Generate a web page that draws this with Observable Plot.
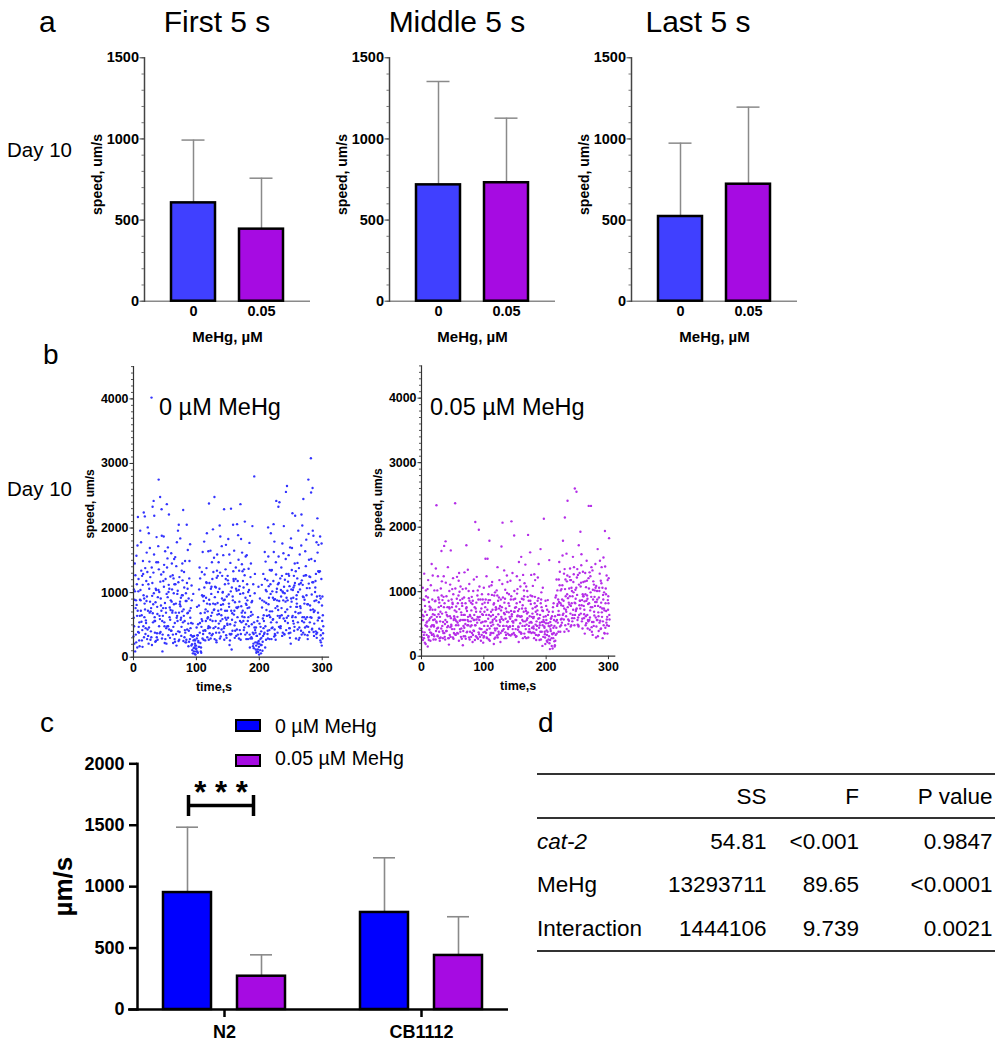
<!DOCTYPE html>
<html><head><meta charset="utf-8">
<script src="https://cdn.jsdelivr.net/npm/d3@7"></script>
<script src="https://cdn.jsdelivr.net/npm/@observablehq/plot@0.6"></script>
<style>
html,body{margin:0;padding:0;background:#fff;}
#root{position:relative;width:1006px;height:1050px;overflow:hidden;font-family:Arial,"Liberation Sans",Helvetica,sans-serif;color:#000;}
.abs{position:absolute;}
</style></head><body><div id="root"></div>
<script>
// ---------- DATA ----------
// panel a
const doses = ["0", "0.05"];
const windows = ["First 5 s", "Middle 5 s", "Last 5 s"];
const meanFirst = [606, 444];  const sdFirst = [387, 314];
const meanMiddle = [717, 730]; const sdMiddle = [637, 398];
const meanLast = [522, 721];   const sdLast = [452, 475];
const aTicks = [0, 500, 1000, 1500];

// panel b : speed samples (um/s), 6 interleaved tracks per condition, one sample every 2 s per track
const sampleStep = 2, trackOffset = 1 / 3;
const blue1 = [320,1450,880,150,1210,640,1780,420,960,2180, 530,1320,210,1690,760,1150,2420,380,1040,670, 2750,590,1280,90,1870,840,450,1530,1120,300, 1610,720,990,240,1410,560,2050,860,330,1190, 640,1490,270,1060,410,1750,180,520,90,260, 130,340,800,1220,470,1630,950,260,1380,710, 2380,580,1090,360,1540,820,230,1260,670,1870, 430,1010,2290,610,300,1190,780,1460,120,880, 1650,540,1030,350,1340,2370,690,1180,460,920, 1580,280,770,1240,510,170,2800,380,90,620, 210,470,1120,330,860,1480,640,2010,420,980, 1350,590,1790,270,1060,730,2400,480,1260,880, 350,1520,2650,640,1100,210,1690,920,470,1330, 780,1960,300,1150,560,2450,890,1410,620,2750, 1070,3080,440,1880,720,1290,380,1740,950,230, 560];
const blue2 = [610,1020,230,1730,470,890,1340,160,2240,740, 1180,430,1920,860,310,2330,990,560,1470,270, 1360,2480,720,350,1090,1640,210,930,2210,580, 410,1270,820,1550,180,1030,690,1840,470,960, 1320,380,870,1660,240,610,1110,60,330,180, 460,70,1050,220,590,940,1790,410,1150,620, 890,1650,340,1980,740,470,1230,1010,380,560, 1720,820,270,1360,940,610,1590,350,1080,2050, 720,1210,430,1890,860,270,1440,990,620,1560, 380,1010,1770,640,290,1130,460,120,330,80, 520,190,770,1290,380,1040,640,1560,280,1920, 710,1180,430,1470,880,2330,610,1040,330,1610, 990,2560,740,1290,450,1840,620,1080,1450,290, 1220,680,1590,410,2040,930,350,1270,820,1910, 540,2550,1160,390,1490,880,2150,610,1330,420, 940];
const blue3 = [1050,90,1570,720,380,1960,550,1120,310,1380, 870,2010,460,1240,4020,680,1590,240,1860,930, 480,1170,2290,640,1430,280,980,1700,430,1250, 860,350,1520,1130,610,1960,270,790,1340,540, 1080,230,2050,690,1220,450,880,320,150,40, 290,510,160,680,1320,360,1080,740,1920,450, 1150,290,1470,830,2480,560,1340,720,1060,320, 910,1580,480,1210,720,1830,190,1020,580,1330, 490,1390,2060,780,1100,360,1620,560,1270,830, 1130,620,350,1450,870,210,990,460,230,1090, 360,60,880,450,1630,270,1190,820,1350,540, 1020,2060,360,1280,790,1560,470,940,1760,600, 1200,420,1030,1580,300,910,2230,520,1150,780, 1460,270,1050,1730,620,1260,460,1820,340,1140, 800,1520,2620,700,1010,360,1620,850,1870,1210, 290];
const blue4 = [480,1270,810,2170,260,1040,650,1490,910,360, 1620,720,1060,270,1390,540,2190,850,310,1470, 1010,390,1880,760,540,1210,2370,480,1060,730, 1450,220,1130,690,1780,400,1240,580,960,2280, 310,870,1150,520,1490,760,200,980,270,130, 780,250,1390,90,960,410,1280,560,830,1640, 370,1060,690,1320,280,1080,1590,450,2040,810, 1260,390,890,1740,520,1140,360,2300,680,1210, 300,1060,760,1510,420,1830,630,1080,2100,510, 880,1370,150,700,2030,360,1290,180,560,250, 910,400,100,650,1210,840,360,1100,710,1340, 460,1630,900,2420,380,1150,640,1390,1020,2030, 560,1290,880,370,1700,1050,640,1260,2190,900, 430,1380,790,2210,1120,540,1640,960,280,1510, 1240,610,1960,330,1080,1780,570,1320,260,1760, 650];
const blue5 = [210,760,1130,390,540,880,260,1290,620,450, 940,330,1480,710,190,820,560,1060,370,1720, 640,910,290,1180,480,760,1390,340,620,880, 1050,470,280,830,640,1160,390,920,710,250, 560,990,430,170,720,340,110,260,50,180, 90,230,380,150,560,270,690,920,310,480, 820,640,1210,450,930,380,660,1470,290,740, 590,880,1130,340,500,970,260,720,410,1180, 850,330,620,1040,560,790,1330,420,690,280, 760,480,950,310,660,140,420,70,210,160, 110,300,240,560,150,730,410,920,620,280, 580,890,340,1010,640,470,1220,760,380,1090, 700,920,530,1260,380,860,1040,410,700,960, 540,1130,690,350,940,620,1270,480,820,390, 620,970,740,520,1180,300,690,440,910,180, 370];
const blue6 = [890,350,640,1020,170,720,1260,480,830,570, 280,1130,690,400,950,1310,620,250,780,1040, 370,800,560,1320,220,690,480,1010,770,410, 690,1220,530,360,980,250,820,610,1450,740, 420,230,680,910,280,530,320,140,210,90, 340,160,530,70,290,870,420,1160,600,270, 460,980,560,730,1090,260,840,520,1310,650, 1000,450,720,580,1260,830,510,360,940,660, 410,770,1180,290,980,540,720,1360,350,810, 560,1040,290,850,380,540,230,330,120,40, 280,190,600,360,480,1020,290,650,1130,450, 920,320,760,540,1130,870,450,650,1000,360, 860,610,1170,450,780,1350,560,1110,620,830, 1010,460,760,1190,380,830,590,1070,470,1250, 730,430,1160,870,400,940,1330,610,340,800, 480];
const purple1 = [430,1060,280,690,520,150,840,370,610,1250, 460,720,2340,310,880,540,1630,390,760,260, 930,620,180,1110,470,810,360,2370,690,520, 240,870,430,1040,640,310,1720,560,900,380, 710,220,1190,480,830,610,1960,300,740,530, 1060,380,640,1510,260,870,470,720,190,990, 550,1380,340,780,610,2070,420,890,280,1150, 680,460,930,1290,360,750,560,1040,220,840, 1540,470,690,300,1080,590,860,380,1260,660, 430,920,250,710,1430,520,880,160,610,340, 780,220,470,110,590,340,820,170,940,1020, 700,1310,480,1100,860,2150,620,1250,390,930, 1180,540,990,2600,720,1350,460,860,1140,580, 930,350,1070,640,1210,410,2330,760,530,1020, 290,880,620,1280,430,740,1530,350,960,610, 820];
const purple2 = [720,250,1280,480,330,910,560,240,1430,650, 310,860,520,1240,380,690,940,280,1710,560, 390,1380,760,450,880,290,620,1050,540,820, 1290,380,640,170,910,500,760,1340,290,620, 480,860,390,2080,570,1020,340,690,420,880, 310,760,1240,470,640,330,1100,560,820,400, 730,290,910,530,1700,400,670,1030,470,350, 960,580,2090,420,690,890,310,630,1460,510, 350,790,1020,540,280,920,470,1610,360,740, 610,1180,410,860,330,640,990,480,2130,290, 560,380,690,250,480,120,360,620,440,810, 1190,460,790,1560,570,1040,690,2410,830,1360, 480,930,1270,640,1060,560,1720,860,1410,430, 780,1160,510,890,2330,600,920,1330,470,780, 1090,560,390,1480,830,1060,480,1940,700,350, 1210];
const purple3 = [290,560,870,190,640,1180,410,750,330,560, 1020,260,610,440,830,290,1160,530,360,1780, 640,470,1010,300,760,1210,420,560,890,350, 730,1080,270,560,440,820,370,610,1120,460, 920,330,640,480,1230,270,560,880,330,640, 470,1510,290,830,1080,520,360,640,940,290, 1020,490,740,220,580,910,1330,370,690,540, 330,1170,620,470,1870,560,820,410,730,1080, 620,280,930,1420,490,680,370,860,520,1090, 280,760,540,1220,440,380,760,1060,530,190, 400,870,310,530,280,690,560,240,1190,520, 840,380,1040,640,1280,480,1590,760,550,1180, 1060,640,1380,820,2550,490,1110,740,1580,960, 590,1290,860,430,1050,710,1380,330,1110,840, 460,1660,910,550,1130,280,740,1390,520,1180, 470];
const purple4 = [560,880,370,1020,460,290,770,1100,480,340, 640,1360,430,910,280,1050,660,360,820,1140, 530,280,740,1640,420,960,590,330,1230,480, 1000,560,820,390,1300,270,700,480,860,540, 360,1010,560,740,290,600,1080,420,960,210, 690,880,410,580,1790,360,950,490,270,720, 430,860,1180,360,760,470,830,580,1250,420, 780,320,650,540,1010,420,1240,700,380,610, 890,1260,350,740,560,1880,420,940,610,370, 1270,490,780,320,590,1660,380,700,460,860, 240,640,1490,420,160,760,230,910,350,640, 1460,820,580,1790,740,1190,420,900,1050,660, 820,1540,590,1030,740,1260,640,1930,790,1310, 650,960,1480,560,820,1240,450,1030,690,1430, 840,310,1060,760,1380,540,990,440,1250,870, 1830];
const purple5 = [380,620,210,930,540,310,720,460,880,260, 570,390,1020,650,240,780,470,920,300,680, 450,860,330,590,1040,270,710,480,360,940, 550,300,780,470,640,1050,380,540,260,830, 590,400,760,310,520,880,430,240,650,370, 830,540,280,960,430,620,1150,360,580,760, 320,650,470,880,390,560,280,740,980,450, 610,880,340,520,690,300,970,460,620,370, 740,540,1130,420,660,290,520,810,440,590, 360,690,470,580,250,820,530,300,440,620, 330,510,200,390,620,280,470,330,560,880, 640,1020,520,780,380,930,1160,570,800,460, 1010,720,480,890,1220,600,790,1080,540,930, 720,480,1170,810,560,990,380,880,630,1060, 560,780,1010,420,680,950,360,820,570,720, 640];
const purple6 = [640,330,780,470,1040,250,590,360,720,480, 850,540,320,760,610,430,870,1240,500,390, 760,280,620,490,830,560,340,770,610,1170, 420,680,890,310,560,740,480,1010,640,300, 810,560,250,690,940,370,610,520,810,290, 540,360,720,870,240,690,530,800,430,610, 940,380,560,710,1120,470,650,330,530,820, 460,700,540,880,330,760,620,450,1180,350, 560,880,470,700,1010,380,620,530,930,460, 820,330,650,900,480,260,710,560,380,510, 720,260,460,580,350,440,150,540,780,380, 1100,570,880,660,1350,720,960,500,1230,780, 590,1150,830,700,950,480,1290,660,870,1150, 850,620,940,540,1300,760,530,1160,920,600, 1010,680,520,1170,610,880,710,1050,480,930, 570];
const bTitles = ["0 µM MeHg", "0.05 µM MeHg"];

// panel c
const cGroups = ["N2", "CB1112"];
const cDoseLabels = ["0 µM MeHg", "0.05 µM MeHg"];
const meanUntreated = [952, 790]; const sdUntreated = [532, 445];
const meanMeHg = [271, 440];      const sdMeHg = [174, 315];
const cTicks = [0, 500, 1000, 1500, 2000];
const sigGroup = "N2", sigText = "* * *";

// panel d
const anovaCols = ["SS", "F", "P value"];
const anovaRows = ["cat-2", "MeHg", "Interaction"];
const anovaSS = ["54.81", "13293711", "1444106"];
const anovaF = ["<0.001", "89.65", "9.739"];
const anovaP = ["0.9847", "<0.0001", "0.0021"];

// ---------- STYLE / LAYOUT ----------
const FONT = 'Arial, "Liberation Sans", Helvetica, sans-serif';
const baseStyle = {fontFamily: FONT, background: "transparent", overflow: "visible", maxWidth: "none", color: "#000"};
const aColors = ["#4040ff", "#a60be2"];
const bColors = ["#3333ff", "#b52ee8"];
const cColors = ["#0000ff", "#a60be2"];
const plain = d => String(d);
const root = document.getElementById("root");

function mount(svg, left, top, w, h) {
  const d = document.createElement("div");
  d.className = "abs";
  Object.assign(d.style, {left: left + "px", top: top + "px", width: w + "px", height: h + "px"});
  d.appendChild(svg);
  root.appendChild(d);
}
function label(txt, x, baseline, size, o = {}) {
  const el = document.createElement("div");
  el.className = "abs";
  el.textContent = txt;
  const tr = o.anchor === "middle" ? "translateX(-50%)" : o.anchor === "end" ? "translateX(-100%)" : "none";
  Object.assign(el.style, {left: x + "px", top: (baseline - 0.8465 * size) + "px", fontSize: size + "px",
    lineHeight: "1", whiteSpace: "nowrap", fontWeight: o.weight || "normal", fontStyle: o.italic ? "italic" : "normal", transform: tr});
  root.appendChild(el);
}

// ---------- PANEL A ----------
const aMeans = [meanFirst, meanMiddle, meanLast];
const aSds = [sdFirst, sdMiddle, sdLast];
const aAxisLeft = [144, 389, 631];
const aTitleX = [217, 457, 698];
windows.forEach((w, i) => {
  const rows = doses.map((dose, j) => ({dose, mean: aMeans[i][j], top: aMeans[i][j] + aSds[i][j]}));
  const svg = Plot.plot({
    width: 260, height: 305, marginLeft: 80, marginRight: 14, marginTop: 12.3, marginBottom: 49.3,
    style: baseStyle,
    x: {domain: doses, paddingInner: 0.35, paddingOuter: 0.38},
    y: {domain: [0, 1500]},
    color: {domain: doses, range: aColors},
    marks: [
      Plot.ruleY([0], {stroke: "#8a8a8a", strokeWidth: 1.5}),
      Plot.ruleX(rows, {x: "dose", y1: "mean", y2: "top", stroke: "#8a8a8a", strokeWidth: 1.5}),
      Plot.tickY(rows, {x: "dose", y: "top", stroke: "#8a8a8a", strokeWidth: 1.5, insetLeft: 10.5, insetRight: 10.5}),
      Plot.barY(rows, {x: "dose", y: "mean", fill: "dose", stroke: "#000", strokeWidth: 2.5}),
      Plot.frame({anchor: "left", stroke: "#444", strokeWidth: 1.5}),
      Plot.axisY({ticks: d3.range(0, 1501, 100), tickSize: 2.5, tickFormat: () => "", label: null, stroke: "#777"}),
      Plot.axisY({ticks: aTicks, tickSize: 4.5, tickPadding: 1, tickFormat: plain, fontSize: 14.5, fontWeight: "bold", label: null, stroke: "#444"}),
      Plot.axisX({tickSize: 0, tickPadding: 5, fontSize: 14.5, fontWeight: "bold", label: null}),
      Plot.text(["speed, um/s"], {text: d => d, frameAnchor: "left", textAnchor: "middle", rotate: -90, dx: -47, dy: -5, fontSize: 14, fontWeight: "bold"}),
      Plot.text(["MeHg, µM"], {text: d => d, frameAnchor: "bottom", textAnchor: "middle", lineAnchor: "top", dy: 30, fontSize: 15, fontWeight: "bold"})
    ]
  });
  mount(svg, aAxisLeft[i] - 80, 45, 260, 305);
  label(w, aTitleX[i], 32.3, 30, {anchor: "middle"});
});
label("a", 39, 32.3, 30);
label("Day 10", 7, 157, 20.5);

// ---------- PANEL B ----------
function scatter(tracks, color, m, xLabelDx) {
  const pts = tracks.flatMap((arr, k) => arr.map((v, i) => ({t: i * sampleStep + k * trackOffset, v})));
  return Plot.plot({
    width: 300, height: 350, marginLeft: m[0], marginRight: m[1], marginTop: m[2], marginBottom: m[3],
    style: baseStyle,
    x: {domain: [0, 310]},
    y: {domain: [0, 4500]},
    marks: [
      Plot.dot(pts, {x: "t", y: "v", r: 1.2, fill: color, stroke: null}),
      Plot.frame({anchor: "left", stroke: "#333", strokeWidth: 1.2}),
      Plot.frame({anchor: "bottom", stroke: "#333", strokeWidth: 1.2}),
      Plot.axisY({ticks: d3.range(0, 4501, 100), tickSize: 2, tickFormat: () => "", label: null, stroke: "#555"}),
      Plot.axisY({ticks: [0, 1000, 2000, 3000, 4000], tickSize: 3.5, tickPadding: 1.5, tickFormat: plain, fontSize: 12.4, fontWeight: "bold", label: null, stroke: "#333"}),
      Plot.axisX({ticks: [0, 100, 200, 300], tickSize: 3.5, tickPadding: 2.5, tickFormat: plain, fontSize: 12.4, fontWeight: "bold", label: null, stroke: "#333"}),
      Plot.text(["speed, um/s"], {text: d => d, frameAnchor: "left", textAnchor: "middle", rotate: -90, dx: -43, dy: -8, fontSize: 12, fontWeight: "bold"}),
      Plot.text(["time,s"], {text: d => d, frameAnchor: "bottom", textAnchor: "middle", lineAnchor: "top", dx: xLabelDx, dy: 25, fontSize: 12.5, fontWeight: "bold"})
    ]
  });
}
mount(scatter([blue1, blue2, blue3, blue4, blue5, blue6], bColors[0], [93, 12, 16.1, 43.3], -17), 40, 350, 300, 350);
mount(scatter([purple1, purple2, purple3, purple4, purple5, purple6], bColors[1], [91, 15.8, 15.4, 44.3], 0), 330, 350, 300, 350);
label("b", 43, 365, 28);
label("Day 10", 7, 496, 20.5);
label(bTitles[0], 159, 415.7, 23.5);
label(bTitles[1], 430, 415.7, 23.5);

// ---------- PANEL C ----------
const cMeans = [meanUntreated, meanMeHg];
const cSds = [sdUntreated, sdMeHg];
const cOffset = [-37, 37];
const cMarks = [Plot.ruleY([0], {stroke: "#000", strokeWidth: 2.5, insetLeft: -9})];
cDoseLabels.forEach((dose, j) => {
  const rows = cGroups.map((g, k) => ({g, dose, mean: cMeans[j][k], top: cMeans[j][k] + cSds[j][k]}));
  cMarks.push(
    Plot.ruleX(rows, {x: "g", y1: "mean", y2: "top", dx: cOffset[j], stroke: "#8a8a8a", strokeWidth: 1.6}),
    Plot.tickY(rows, {x: "g", y: "top", dx: cOffset[j], insetLeft: 76, insetRight: 76, stroke: "#8a8a8a", strokeWidth: 1.6}),
    Plot.barY(rows, {x: "g", y: "mean", dx: cOffset[j], insetLeft: 63, insetRight: 63, fill: "dose", stroke: "#000", strokeWidth: 2.5})
  );
});
const sig = [{g: sigGroup, y: 1661, lo: 1571, hi: 1742, star: 1765}];
cMarks.push(
  Plot.ruleY(sig, {x1: "g", x2: "g", y: "y", insetLeft: 51, insetRight: 58, stroke: "#000", strokeWidth: 3.5}),
  Plot.ruleX(sig, {x: "g", y1: "lo", y2: "hi", dx: -36, stroke: "#000", strokeWidth: 3.5}),
  Plot.ruleX(sig, {x: "g", y1: "lo", y2: "hi", dx: 29, stroke: "#000", strokeWidth: 3.5}),
  Plot.text(sig, {x: "g", y: "star", text: () => sigText, dx: -3.5, fontSize: 31, fontWeight: "bold"}),
  Plot.frame({anchor: "left", stroke: "#000", strokeWidth: 2.5}),
  Plot.axisY({ticks: cTicks, tickSize: 8, tickPadding: 5, tickFormat: plain, fontSize: 18, fontWeight: "bold", label: null, stroke: "#000", strokeWidth: 2.5}),
  Plot.axisX({tickSize: 8, tickPadding: 8, fontSize: 18, fontWeight: "bold", label: null, stroke: "#000", strokeWidth: 2.5}),
  Plot.text(["µm/s"], {text: d => d, frameAnchor: "left", textAnchor: "middle", rotate: -90, dx: -74, fontSize: 26, fontWeight: "bold"})
);
mount(Plot.plot({
  width: 530, height: 345, marginLeft: 137, marginRight: 22, marginTop: 63.3, marginBottom: 36,
  style: baseStyle,
  x: {domain: cGroups, paddingInner: 0.117, paddingOuter: 0},
  y: {domain: [0, 2000]},
  color: {domain: cDoseLabels, range: cColors},
  marks: cMarks
}), 0, 700, 530, 345);
label("c", 40, 732.7, 28);
// legend
const legendTops = [719.3, 754], legendBase = [733.3, 766];
cDoseLabels.forEach((t, j) => {
  const sw = document.createElement("div");
  sw.className = "abs";
  Object.assign(sw.style, {left: "235px", top: legendTops[j] + "px", width: "26px", height: "13px", background: cColors[j], border: "2.5px solid #000", boxSizing: "border-box"});
  root.appendChild(sw);
  label(t, 275, legendBase[j], 19.6);
});

// ---------- PANEL D ----------
label("d", 538, 733, 28);
const colRight = [766.5, 859, 992.5];
const rowBase = [850, 893.3, 937.3];
anovaCols.forEach((c, k) => label(c, colRight[k], 805, 22.5, {anchor: "end"}));
anovaRows.forEach((r, i) => {
  label(r, 537, rowBase[i], 22.5, {italic: i === 0});
  label(anovaSS[i], colRight[0], rowBase[i], 22.5, {anchor: "end"});
  label(anovaF[i], colRight[1], rowBase[i], 22.5, {anchor: "end"});
  label(anovaP[i], colRight[2], rowBase[i], 22.5, {anchor: "end"});
});
[773.3, 817, 950].forEach(y => {
  const hr = document.createElement("div");
  hr.className = "abs";
  Object.assign(hr.style, {left: "537px", top: y + "px", width: "458px", height: "2px", background: "#333"});
  root.appendChild(hr);
});
</script></body></html>
